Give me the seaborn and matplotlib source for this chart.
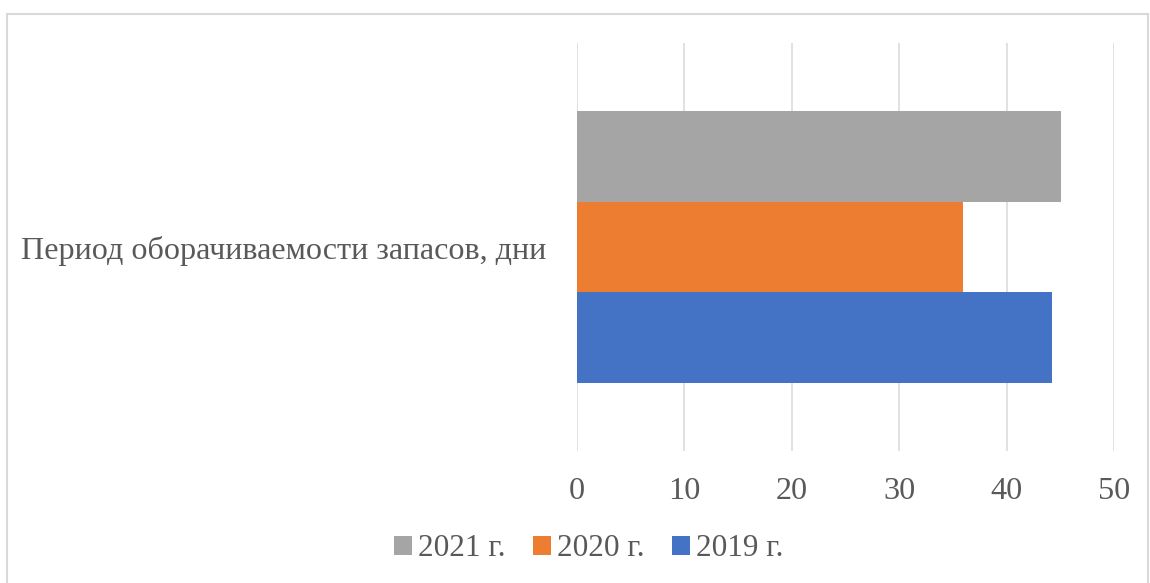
import matplotlib
matplotlib.use("Agg")
import matplotlib.pyplot as plt
import seaborn as sns
import pandas as pd
from matplotlib.patches import Patch, Rectangle

categories = ["Период оборачиваемости запасов, дни"]
years = ["2021 г.", "2020 г.", "2019 г."]
values_2021 = [45.1]
values_2020 = [35.9]
values_2019 = [44.2]
x_ticks = [0, 10, 20, 30, 40, 50]
colors = ["#A5A5A5", "#ED7D31", "#4472C4"]

df = pd.DataFrame({
    "category": categories * 3,
    "year": [years[0]] * len(categories) + [years[1]] * len(categories) + [years[2]] * len(categories),
    "value": values_2021 + values_2020 + values_2019,
})

sns.set_theme(style="white")
plt.rcParams["font.family"] = ["Liberation Serif", "DejaVu Serif"]

fig = plt.figure(figsize=(11.5, 5.83), dpi=100)
ax = fig.add_axes([577 / 1150, 1 - 451 / 583, (1114 - 577) / 1150, (451 - 43) / 583])

sns.barplot(data=df, x="value", y="category", hue="year", hue_order=years,
            palette=colors, orient="h", width=0.8, saturation=1, ax=ax,
            legend=False, edgecolor="none", linewidth=0)

ax.set_xlim(0, 50)
ax.set_ylim(0.6, -0.6)
ax.set_xticks(x_ticks)
ax.xaxis.grid(True, color="#D9D9D9", linewidth=1.1)
ax.yaxis.grid(False)
ax.set_axisbelow(True)
for s in ax.spines.values():
    s.set_visible(False)
ax.set_xlabel("")
ax.set_ylabel("")
ax.tick_params(axis="x", length=0, pad=19, labelsize=23.2, labelcolor="#595959")
ax.tick_params(axis="y", length=0, pad=22, labelsize=23.1, labelcolor="#595959")

handles = [Patch(facecolor=c, edgecolor="none", label=y) for c, y in zip(colors, years)]
fig.legend(handles=handles, loc="center", bbox_to_anchor=(0.512, 1 - 549 / 583), ncol=3,
           frameon=False, fontsize=22.5, labelcolor="#595959",
           handlelength=0.55, handleheight=0.55, handletextpad=0.2, columnspacing=0.9,
           borderaxespad=0)

fig.patches.append(Rectangle((7 / 1150, -0.05), (1148 - 7) / 1150, 1.05 - 14 / 583,
                             transform=fig.transFigure, fill=False,
                             edgecolor="#D9D9D9", linewidth=1.5))

fig.savefig("out.png", dpi=100, facecolor="white")
